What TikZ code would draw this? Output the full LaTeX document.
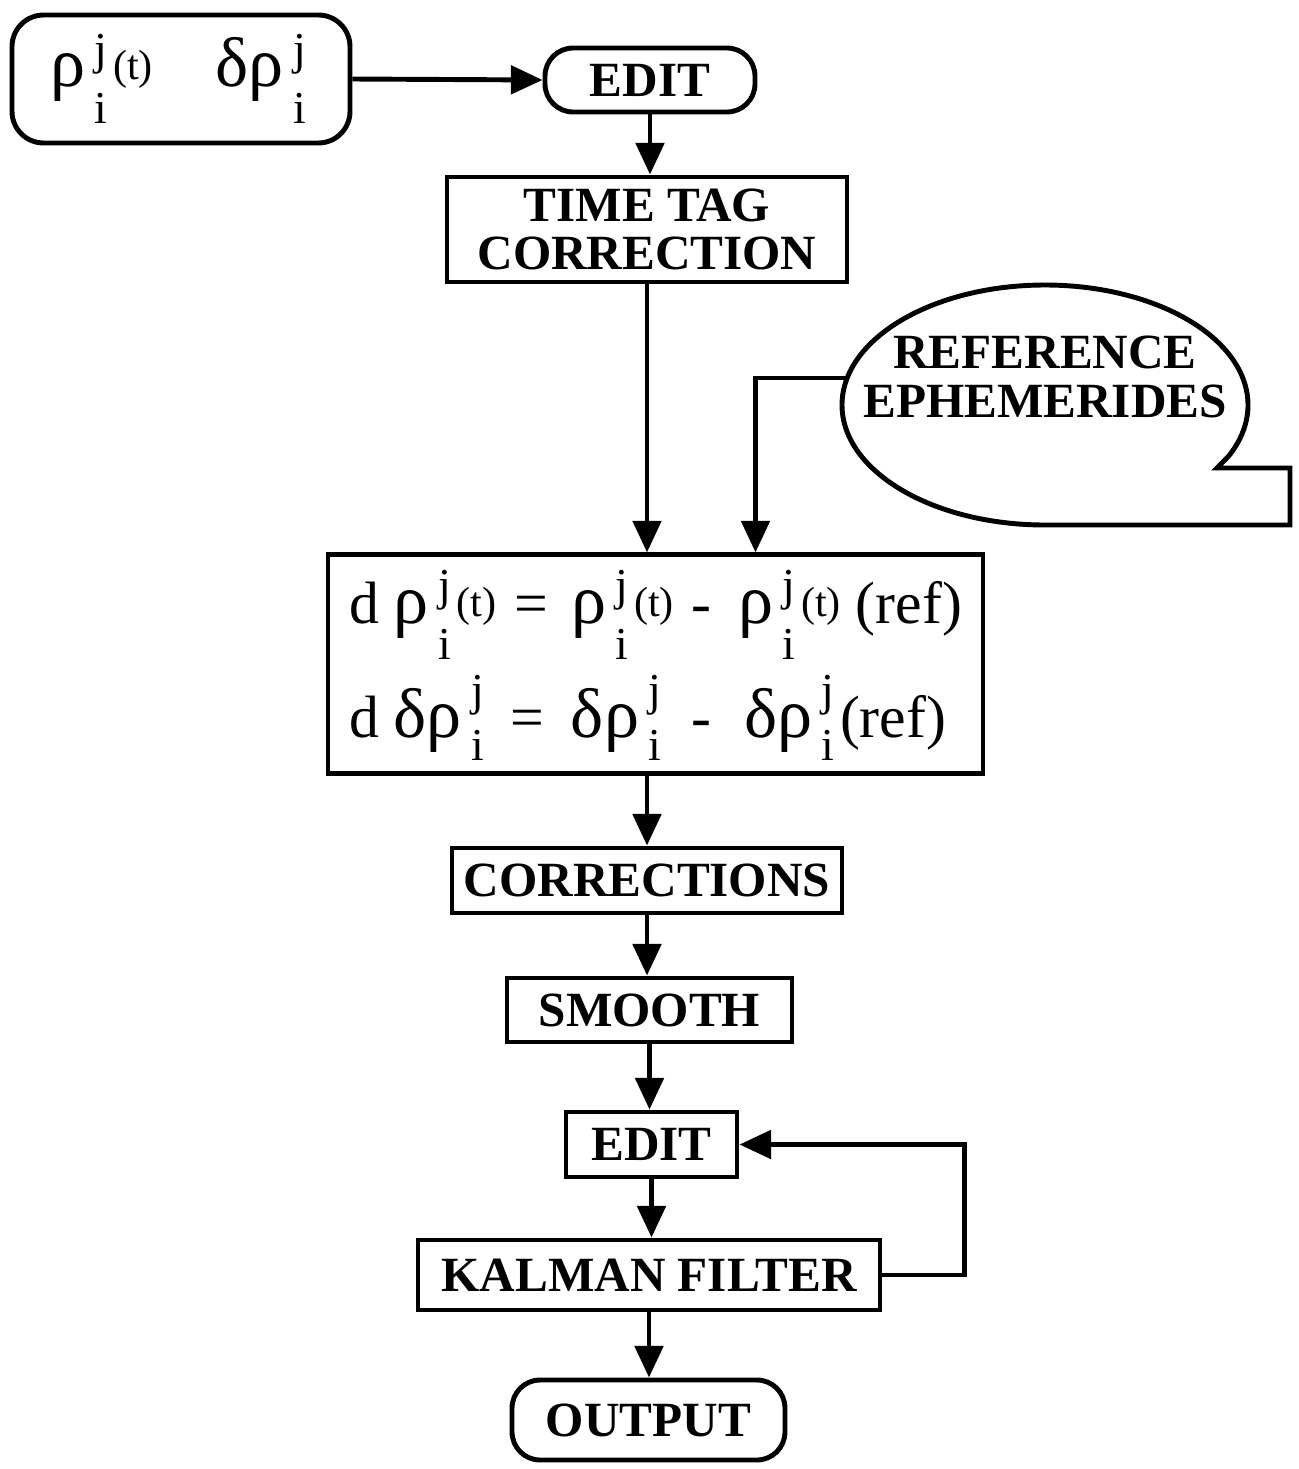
\documentclass[tikz,border=0pt]{standalone}
\usepackage{fontspec}
\setmainfont{Liberation Serif}
\usetikzlibrary{arrows.meta}

% stacked j over i, as in the scan (raise of j, drop of i)
\newcommand{\scr}[1]{{\fontsize{13}{13}\selectfont #1}}
\newcommand{\gk}[1]{{\fontsize{20}{20}\selectfont #1}}
\newcommand{\jiat}[2]{\kern1pt\makebox[0.4em]{\makebox[0pt]{\raisebox{#1}{\scr j}}\makebox[0pt]{\raisebox{-#2}{\scr i}}}}
\newcommand{\rji}{\gk{ρ}\jiat{6.3pt}{10.5pt}}
\newcommand{\drji}{\gk{δρ}\jiat{6.3pt}{10.5pt}}
\newcommand{\drjii}{\gk{δρ}\jiat{9pt}{6.5pt}}
\newcommand{\ofT}{\raisebox{2pt}{\fontsize{12}{12}\selectfont(t)}}

\begin{document}
\begin{tikzpicture}[line width=1.4pt, >={Triangle[length=9pt,width=8pt]},
    lbl/.style={font=\fontsize{14}{13.7}\selectfont\bfseries, align=center},
    box/.style={lbl, draw, inner sep=0pt},
    rbox/.style={box, rounded corners=8pt},
    eqbox/.style={draw, inner sep=0pt, align=left, font=\fontsize{17}{32.5}\selectfont}]
  \useasboundingbox (0,0) rectangle (12.99,-14.69);

  \node (inp) at (1.81,-0.79) [eqbox, rounded corners=9pt, minimum width=3.38cm, minimum height=1.28cm]
        {\rji\ofT\hspace{1.05em}\drji};
  \node (edit) at (6.50,-0.80)  [rbox, minimum width=2.10cm, minimum height=0.64cm] {EDIT};
  \node (ttc)  at (6.47,-2.295) [box, minimum width=4.00cm, minimum height=1.05cm] {TIME TAG\\CORRECTION};
  \node (eq)   at (6.555,-6.64) [eqbox, minimum width=6.55cm, minimum height=2.18cm]
        {\rule{0pt}{19.4pt}d\hspace{0.25em}\rji\ofT\hspace{0.3em}=\hspace{0.4em}\rji\ofT\hspace{0.3em}-\hspace{0.45em}\rji\ofT\hspace{0.25em}(ref)\\
         \rule[-10.2pt]{0pt}{10pt}d\hspace{0.25em}\drjii\hspace{0.35em}=\hspace{0.45em}\drjii\hspace{0.42em}-\hspace{0.55em}\drjii(ref)};
  \node (corr)   at (6.47,-8.805)  [box, minimum width=3.90cm, minimum height=0.65cm] {CORRECTIONS};
  \node (smooth) at (6.495,-10.10) [box, minimum width=2.85cm, minimum height=0.64cm] {SMOOTH};
  \node (edit2)  at (6.515,-11.445)[box, minimum width=1.71cm, minimum height=0.65cm] {EDIT};
  \node (kalman) at (6.49,-12.75)  [box, minimum width=4.62cm, minimum height=0.70cm] {KALMAN FILTER};
  \node (out)    at (6.485,-14.20) [rbox, minimum width=2.73cm, minimum height=0.80cm] {OUTPUT};

  % speech bubble
  \draw (12.29,-4.557) -- (12.17,-4.68) -- (12.90,-4.68) -- (12.90,-5.25) -- (10.45,-5.25)
        arc[start angle=270, end angle=-25, x radius=2.03cm, y radius=1.20cm];
  \node (ref) at (10.45,-3.77) [lbl] {REFERENCE\\EPHEMERIDES};
  \coordinate (refin) at (8.47,-3.78);

  \draw[->] (inp.east) -- (edit.west);
  \draw[->] (edit.south) -- (edit.south |- ttc.north);
  \draw[->] (ttc.south) -- (ttc.south |- eq.north);
  \draw[->] (refin) -| ([xshift=1.0cm]eq.north);
  \draw[->] (eq.south -| corr.north) -- (corr.north);
  \draw[->] (corr.south) -- (corr.south |- smooth.north);
  \draw[->] (smooth.south) -- (smooth.south |- edit2.north);
  \draw[->] (edit2.south) -- (edit2.south |- kalman.north);
  \draw[->] (kalman.east) -- ++(0.82,0) |- (edit2.east);
  \draw[->] (kalman.south) -- (kalman.south |- out.north);
\end{tikzpicture}
\end{document}
